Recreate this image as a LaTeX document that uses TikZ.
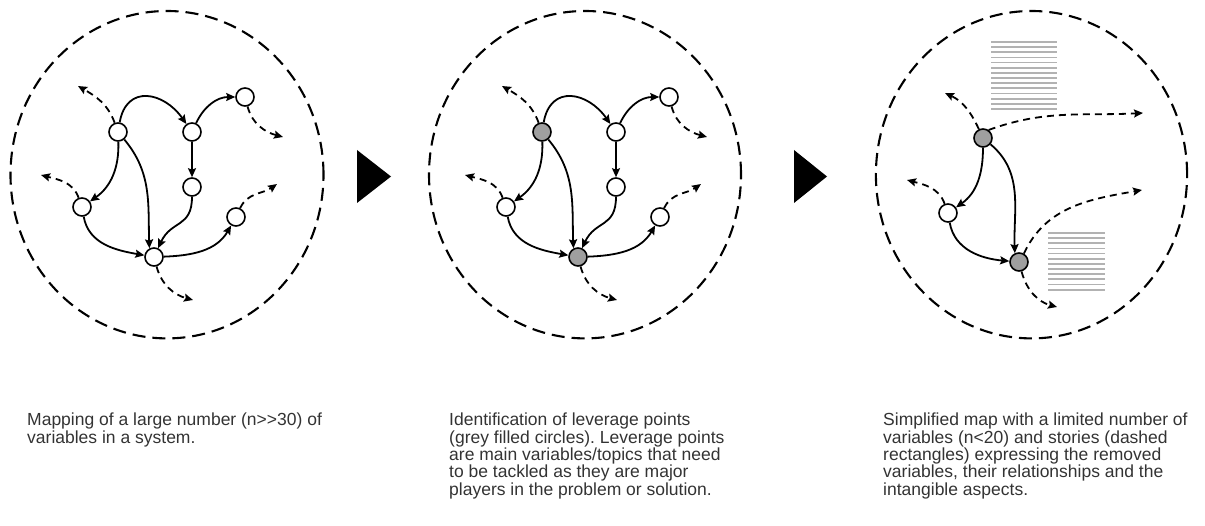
\documentclass[tikz,border=0pt]{standalone}
\usepackage{fontspec}
\setmainfont{Liberation Sans}
\usepackage{tikz}
\usetikzlibrary{arrows.meta}

\begin{document}
\frenchspacing
\begin{tikzpicture}[x=1pt, y=1pt,
  var/.style={circle, draw, line width=1.6pt, fill=white, minimum size=18pt, inner sep=0pt},
  lever/.style={var, fill=gray!75},
  link/.style={-{Stealth[length=9pt,width=8pt,inset=1.5pt]}, line width=1.8pt},
  drift/.style={link, dash pattern=on 7pt off 5pt},
  border/.style={line width=2.1pt, dash pattern=on 13pt off 7pt},
  story/.style={gray!60, line width=1.8pt},
  caption/.style={anchor=north west, inner sep=0pt, align=left, text=black!80,
    font=\fontsize{17.5}{17.3}\selectfont}]
\useasboundingbox (0,0) rectangle (1205,-526);

% the three system borders
\draw[border] (167,-174.7) ellipse [x radius=156.5, y radius=163.7];
\draw[border] (585,-174.7) ellipse [x radius=156, y radius=163.7];
\draw[border] (1031.5,-174.7) ellipse [x radius=155.6, y radius=163.7];

% steps
\fill (357,-150) -- (357,-203) -- (391,-176.5) -- cycle;
\fill (794,-150) -- (794,-203) -- (827,-176.5) -- cycle;

% first map
\node[var] (A1) at (118,-132) {};
\node[var] (A2) at (192,-132) {};
\node[var] (A3) at (245,-97) {};
\node[var] (A4) at (192,-187) {};
\node[var] (A5) at (82,-207) {};
\node[var] (A6) at (236,-217) {};
\node[var] (A7) at (154,-257) {};
\coordinate (a1) at (78,-86);
\coordinate (a3) at (283,-137);
\coordinate (a5) at (41,-175);
\coordinate (a6) at (277,-184);
\coordinate (a7) at (193,-300);
\draw[link] (A1) to[out=80,in=125,looseness=1.5] (A2);
\draw[link] (A1) to[out=-88,in=35] (A5);
\draw[link] (A1) to[out=-50,in=92] (A7.118);
\draw[link] (A2) to[out=65,in=180] (A3);
\draw[link] (A2) -- (A4);
\draw[link] (A4) to[out=-90,in=65,looseness=1.3] (A7);
\draw[link] (A5) to[out=-80,in=170] (A7);
\draw[link] (A7) to[out=2,in=-120] (A6);
\draw[drift] (A1) to[out=110,in=-30] (a1);
\draw[drift] (A5) to[out=110,in=-15] (a5);
\draw[drift] (A3) to[out=-75,in=165] (a3);
\draw[drift] (A6) to[out=65,in=-145] (a6);
\draw[drift] (A7) to[out=-75,in=165] (a7);

% second map, leverage points in grey
\node[lever] (B1) at (542,-132) {};
\node[var] (B2) at (616,-132) {};
\node[var] (B3) at (669,-97) {};
\node[var] (B4) at (616,-187) {};
\node[var] (B5) at (506,-207) {};
\node[var] (B6) at (660,-217) {};
\node[lever] (B7) at (578,-257) {};
\coordinate (b1) at (502,-86);
\coordinate (b3) at (707,-137);
\coordinate (b5) at (465,-175);
\coordinate (b6) at (701,-184);
\coordinate (b7) at (617,-300);
\draw[link] (B1) to[out=80,in=125,looseness=1.5] (B2);
\draw[link] (B1) to[out=-88,in=35] (B5);
\draw[link] (B1) to[out=-50,in=92] (B7.118);
\draw[link] (B2) to[out=65,in=180] (B3);
\draw[link] (B2) -- (B4);
\draw[link] (B4) to[out=-90,in=65,looseness=1.3] (B7);
\draw[link] (B5) to[out=-80,in=170] (B7);
\draw[link] (B7) to[out=2,in=-120] (B6);
\draw[drift] (B1) to[out=110,in=-30] (b1);
\draw[drift] (B5) to[out=110,in=-15] (b5);
\draw[drift] (B3) to[out=-75,in=165] (b3);
\draw[drift] (B6) to[out=65,in=-145] (b6);
\draw[drift] (B7) to[out=-75,in=165] (b7);

% third map with the stories
\foreach \k in {0,...,13}
  \draw[story] (991,-42-5.15*\k) -- (1057,-42-5.15*\k);
\foreach \k in {0,...,11}
  \draw[story] (1048,-233-5.15*\k) -- (1105,-233-5.15*\k);
\node[lever] (C1) at (983,-138) {};
\node[var] (C5) at (948,-213) {};
\node[lever] (C7) at (1019,-262) {};
\coordinate (c1) at (945,-93);
\coordinate (c2) at (1143,-113);
\coordinate (c5) at (907,-180);
\coordinate (c7) at (1142,-190);
\coordinate (c8) at (1057,-307);
\draw[link] (C1) to[out=-90,in=35] (C5);
\draw[link] (C1) to[out=-40,in=92] (C7.115);
\draw[link] (C5) to[out=-80,in=175] (C7);
\draw[drift] (C1) to[out=115,in=-25] (c1);
\draw[drift] (C1.55) to[out=20,in=183] (c2);
\draw[drift] (C5) to[out=110,in=-15] (c5);
\draw[drift] (C7.60) to[out=65,in=190] (c7);
\draw[drift] (C7) to[out=-75,in=165] (c8);

% captions
\node[caption] (t1) at (27,-413) {Mapping of a large number (n>{}>30) of\\variables in a system.};
\node[caption] (t2) at (449,-413) {Identification of leverage points\\(grey filled circles). Leverage points\\are main variables/topics that need\\to be tackled as they are major\\players in the problem or solution.};
\node[caption] (t3) at (883,-413) {Simplified map with a limited number of\\variables (n<20) and stories (dashed\\rectangles) expressing the removed\\variables, their relationships and the\\intangible aspects.};
\end{tikzpicture}
\end{document}
